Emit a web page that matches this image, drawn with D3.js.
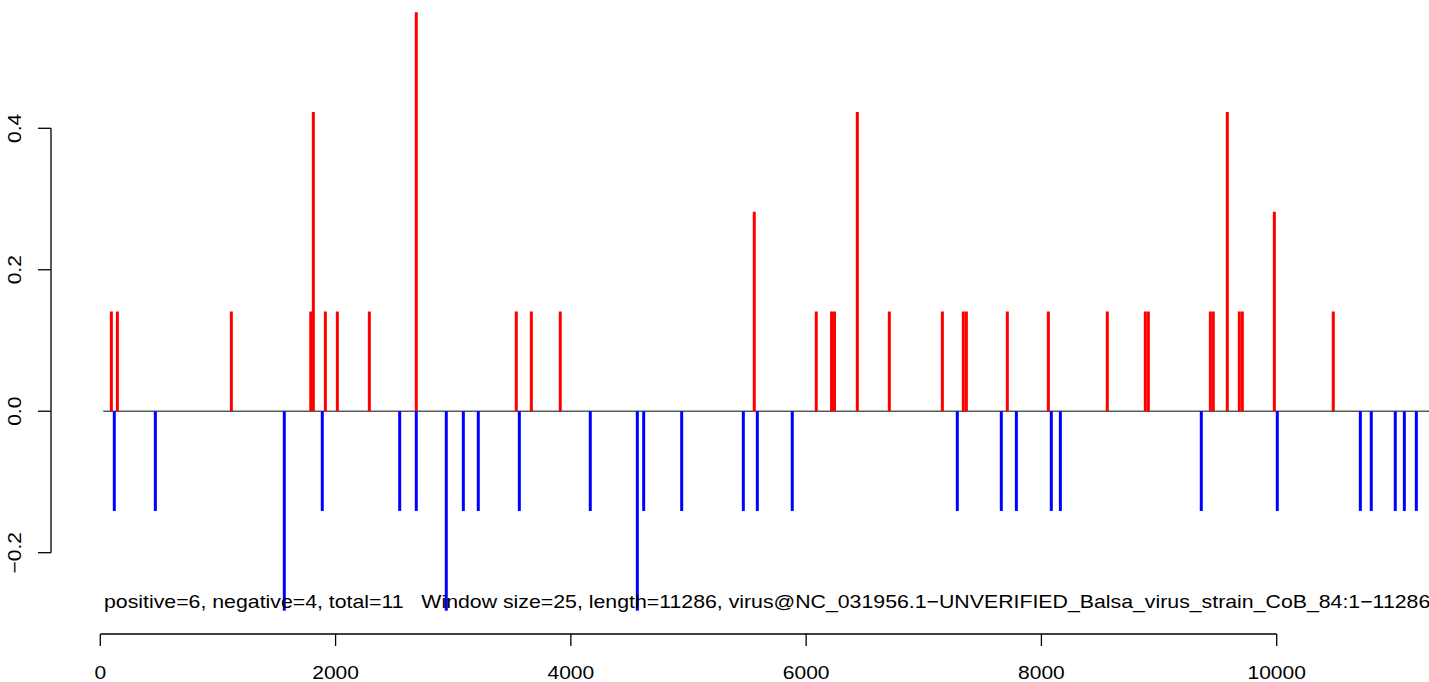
<!DOCTYPE html>
<html>
<head>
<meta charset="utf-8">
<script src="https://cdn.jsdelivr.net/npm/d3@7"></script>
<style>
  html, body { margin: 0; padding: 0; background: #ffffff; }
  svg { display: block; }
  text { font-family: "Liberation Sans", Arial, Helvetica, sans-serif; fill: #000; white-space: pre; }
</style>
</head>
<body>
<svg id="chart" width="1429" height="682"></svg>
<script>
// ---- data ----
const posPositions = [94, 145, 1114, 1789, 1811, 1913, 2015, 2287, 2686, 3536, 3664, 3910,
  5559, 6086, 6216, 6241, 6435, 6707, 7158, 7336, 7362, 7710, 8059, 8560, 8883, 8909,
  9436, 9461, 9580, 9682, 9708, 9980, 10481];
const posValues = [0.141, 0.141, 0.141, 0.141, 0.423, 0.141, 0.141, 0.141, 0.564, 0.141, 0.141, 0.141,
  0.282, 0.141, 0.141, 0.141, 0.423, 0.141, 0.141, 0.141, 0.141, 0.141, 0.141, 0.141, 0.141, 0.141,
  0.141, 0.141, 0.423, 0.141, 0.141, 0.282, 0.141];
const negPositions = [119, 468, 1564, 1887, 2545, 2686, 2941, 3086, 3213, 3562, 4165, 4565,
  4619, 4942, 5466, 5585, 5882, 7285, 7659, 7787, 8084, 8161, 9359, 10005, 10711, 10804,
  11008, 11085, 11187];
const negValues = [-0.141, -0.141, -0.282, -0.141, -0.141, -0.141, -0.282, -0.141, -0.141, -0.141, -0.141, -0.282,
  -0.141, -0.141, -0.141, -0.141, -0.141, -0.141, -0.141, -0.141, -0.141, -0.141, -0.141, -0.141, -0.141, -0.141,
  -0.141, -0.141, -0.141];
const xTicks = [0, 2000, 4000, 6000, 8000, 10000];
const yTicks = [-0.2, 0.0, 0.2, 0.4];
const yTickLabels = ["\u22120.2", "0.0", "0.2", "0.4"];
const seqLength = 11286;
const windowSize = 25;
const subtitle = "positive=6, negative=4, total=11   Window size=25, length=11286, virus@NC_031956.1\u2212UNVERIFIED_Balsa_virus_strain_CoB_84:1\u221211286";

// ---- scales ----
const svg = d3.select("#chart");
const x = d3.scaleLinear().domain([0, 10000]).range([100.3, 1276.7]);
const y = d3.scaleLinear().domain([-0.2, 0.4]).range([552.7, 128.3]);
const fontSize = 18.6;
const sx = 1.13;

// zero line
svg.append("line")
  .attr("x1", x(windowSize)).attr("x2", x(seqLength) + 3)
  .attr("y1", y(0)).attr("y2", y(0))
  .attr("stroke", "#5a5a5a").attr("stroke-width", 1.3);

// positive bars
svg.append("g").selectAll("line").data(posPositions).join("line")
  .attr("x1", d => x(d)).attr("x2", d => x(d))
  .attr("y1", y(0)).attr("y2", (d, i) => y(posValues[i]))
  .attr("stroke", "#ff0000").attr("stroke-width", 3);

// negative bars
svg.append("g").selectAll("line").data(negPositions).join("line")
  .attr("x1", d => x(d)).attr("x2", d => x(d))
  .attr("y1", y(0)).attr("y2", (d, i) => y(negValues[i]))
  .attr("stroke", "#0000ff").attr("stroke-width", 3);

// x axis
const xAxisY = 634;
svg.append("line")
  .attr("x1", x(xTicks[0])).attr("x2", x(xTicks[xTicks.length - 1]))
  .attr("y1", xAxisY).attr("y2", xAxisY)
  .attr("stroke", "#000").attr("stroke-width", 1.3);
svg.append("g").selectAll("line").data(xTicks).join("line")
  .attr("x1", d => x(d)).attr("x2", d => x(d))
  .attr("y1", xAxisY).attr("y2", xAxisY + 12)
  .attr("stroke", "#000").attr("stroke-width", 1.3);
svg.append("g").selectAll("text").data(xTicks).join("text")
  .attr("transform", d => `translate(${x(d)},679) scale(${sx},1)`)
  .attr("text-anchor", "middle")
  .attr("font-size", fontSize)
  .text(d => String(d));

// y axis
const yAxisX = 51;
svg.append("line")
  .attr("x1", yAxisX).attr("x2", yAxisX)
  .attr("y1", y(yTicks[0])).attr("y2", y(yTicks[yTicks.length - 1]))
  .attr("stroke", "#000").attr("stroke-width", 1.3);
svg.append("g").selectAll("line").data(yTicks).join("line")
  .attr("x1", yAxisX - 13).attr("x2", yAxisX)
  .attr("y1", d => y(d)).attr("y2", d => y(d))
  .attr("stroke", "#000").attr("stroke-width", 1.3);
svg.append("g").selectAll("text").data(yTicks).join("text")
  .attr("transform", d => `translate(20.7,${y(d)}) rotate(-90) scale(${sx},1)`)
  .attr("text-anchor", "middle")
  .attr("font-size", fontSize)
  .text((d, i) => yTickLabels[i]);

// subtitle text
svg.append("text")
  .attr("transform", `translate(104,607.5) scale(1.145,1)`)
  .attr("font-size", fontSize)
  .attr("xml:space", "preserve")
  .text(subtitle);
</script>
</body>
</html>
